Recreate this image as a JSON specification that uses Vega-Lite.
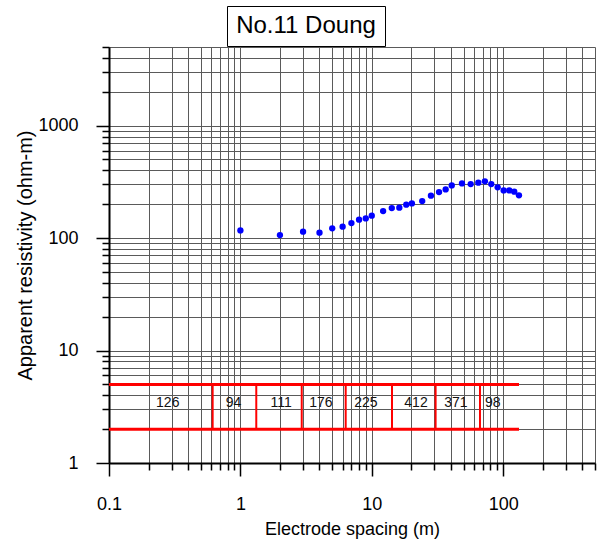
{
  "$schema": "https://vega.github.io/schema/vega-lite/v6.json",
  "padding": {"left": 15, "top": 5, "right": 5, "bottom": 5},
  "background": "white",
  "config": {
    "font": "Liberation Sans",
    "view": {"stroke": null},
    "axis": {
      "titleFontWeight": "normal", "titleColor": "black",
      "labelFontSize": 18, "labelColor": "black",
      "labelFlush": false, "labelOverlap": false,
      "tickColor": "black", "tickWidth": 1.5,
      "domainColor": "black", "domainWidth": 2,
      "grid": true, "gridColor": "#5a5a5a", "gridWidth": 1, "gridOpacity": 1
    }
  },
  "datasets": {
    "title": [{"label": "No.11 Doung"}],
    "spacer": [{"label": ""}],
    "points": [
      {"spacing": 1, "rho": 117}, {"spacing": 2, "rho": 106.4}, {"spacing": 3, "rho": 114},
      {"spacing": 4, "rho": 111.7}, {"spacing": 5, "rho": 122}, {"spacing": 6, "rho": 126.3},
      {"spacing": 7, "rho": 136}, {"spacing": 8, "rho": 145.8}, {"spacing": 9, "rho": 149.6},
      {"spacing": 10, "rho": 158.2}, {"spacing": 12.2, "rho": 173.8}, {"spacing": 14.2, "rho": 184.8},
      {"spacing": 16.2, "rho": 186.3}, {"spacing": 18.3, "rho": 198.2}, {"spacing": 20.2, "rho": 203.4},
      {"spacing": 24.2, "rho": 213.3}, {"spacing": 28.2, "rho": 238.3}, {"spacing": 32.5, "rho": 256.4},
      {"spacing": 36.5, "rho": 271}, {"spacing": 40.6, "rho": 294}, {"spacing": 48.6, "rho": 306.4},
      {"spacing": 56.6, "rho": 302}, {"spacing": 64.7, "rho": 310.8}, {"spacing": 72.6, "rho": 319.3},
      {"spacing": 81.2, "rho": 302}, {"spacing": 90.8, "rho": 282.4}, {"spacing": 100.9, "rho": 265.5},
      {"spacing": 111.3, "rho": 265.5}, {"spacing": 121.4, "rho": 258.4}, {"spacing": 131.9, "rho": 239.7}
    ],
    "band": [
      {"level": 5, "start": 0.1, "end": 132},
      {"level": 2, "start": 0.1, "end": 132}
    ],
    "boundaries": [
      {"depth": 0.615}, {"depth": 1.321}, {"depth": 2.93}, {"depth": 6.33},
      {"depth": 14.25}, {"depth": 30.6}, {"depth": 66.6}
    ],
    "layers": [
      {"resistivity": "126", "labelx": 0.28},
      {"resistivity": "94", "labelx": 0.886},
      {"resistivity": "111", "labelx": 2.04},
      {"resistivity": "176", "labelx": 4.1},
      {"resistivity": "225", "labelx": 9.03},
      {"resistivity": "412", "labelx": 21.7},
      {"resistivity": "371", "labelx": 43.7},
      {"resistivity": "98", "labelx": 83.2}
    ]
  },
  "spacing": -15,
  "vconcat": [
    {
      "spacing": 10,
      "hconcat": [
        {
          "width": 107,
          "height": 40,
          "data": {"name": "spacer"},
          "mark": {"type": "text"},
          "encoding": {"text": {"field": "label"}}
        },
        {
          "width": 158,
          "height": 40,
          "view": {"stroke": "black", "strokeWidth": 1},
          "data": {"name": "title"},
          "mark": {"type": "text", "fontSize": 24, "color": "black", "baseline": "middle", "align": "center"},
          "encoding": {"text": {"field": "label"}}
        }
      ]
    },
    {
      "width": 486,
      "height": 416,
      "layer": [
        {
          "data": {"name": "band"},
          "mark": {"type": "rule", "color": "#FF0000", "strokeWidth": 3},
          "encoding": {
            "x": {
              "field": "start", "type": "quantitative",
              "scale": {"type": "log", "domain": [0.1, 500], "nice": false},
              "axis": {
                "values": [0.1,0.2,0.3,0.4,0.5,0.6,0.7,0.8,0.9,1,2,3,4,5,6,7,8,9,10,20,30,40,50,60,70,80,90,100,200,300,400,500],
                "labelExpr": "indexof([0.1,1,10,100], datum.value) >= 0 ? '' + datum.value : ''",
                "title": "Electrode spacing (m)", "titleFontSize": 18, "titlePadding": 7, "labelPadding": 19,
                "tickSize": {"condition": {"test": "indexof([0.1,1,10,100], datum.value) >= 0", "value": 13}, "value": 7}
              }
            },
            "x2": {"field": "end"},
            "y": {
              "field": "level", "type": "quantitative",
              "scale": {"type": "log", "domain": [1, 5000], "nice": false},
              "axis": {
                "values": [1,2,3,4,5,6,7,8,9,10,20,30,40,50,60,70,80,90,100,200,300,400,500,600,700,800,900,1000,2000,3000,4000,5000],
                "labelExpr": "indexof([1,10,100,1000], datum.value) >= 0 ? '' + datum.value : ''",
                "title": "Apparent resistivity (ohm-m)", "titleFontSize": 20, "titlePadding": 2, "labelPadding": 18,
                "tickSize": {"condition": {"test": "indexof([1,10,100,1000], datum.value) >= 0", "value": 13}, "value": 7}
              }
            }
          }
        },
        {
          "data": {"name": "boundaries"},
          "mark": {"type": "rule", "color": "#FF0000", "strokeWidth": 2},
          "encoding": {
            "x": {
              "field": "depth", "type": "quantitative",
              "scale": {"type": "log", "domain": [0.1, 500], "nice": false},
              "axis": {
                "values": [0.1,0.2,0.3,0.4,0.5,0.6,0.7,0.8,0.9,1,2,3,4,5,6,7,8,9,10,20,30,40,50,60,70,80,90,100,200,300,400,500],
                "labelExpr": "indexof([0.1,1,10,100], datum.value) >= 0 ? '' + datum.value : ''",
                "title": "Electrode spacing (m)", "titleFontSize": 18, "titlePadding": 7, "labelPadding": 19,
                "tickSize": {"condition": {"test": "indexof([0.1,1,10,100], datum.value) >= 0", "value": 13}, "value": 7}
              }
            },
            "y": {
              "datum": 2, "type": "quantitative",
              "scale": {"type": "log", "domain": [1, 5000], "nice": false},
              "axis": {
                "values": [1,2,3,4,5,6,7,8,9,10,20,30,40,50,60,70,80,90,100,200,300,400,500,600,700,800,900,1000,2000,3000,4000,5000],
                "labelExpr": "indexof([1,10,100,1000], datum.value) >= 0 ? '' + datum.value : ''",
                "title": "Apparent resistivity (ohm-m)", "titleFontSize": 20, "titlePadding": 2, "labelPadding": 18,
                "tickSize": {"condition": {"test": "indexof([1,10,100,1000], datum.value) >= 0", "value": 13}, "value": 7}
              }
            },
            "y2": {"datum": 5}
          }
        },
        {
          "data": {"name": "layers"},
          "mark": {"type": "text", "fontSize": 14, "color": "#111111", "baseline": "middle", "align": "center"},
          "encoding": {
            "x": {
              "field": "labelx", "type": "quantitative",
              "scale": {"type": "log", "domain": [0.1, 500], "nice": false},
              "axis": {
                "values": [0.1,0.2,0.3,0.4,0.5,0.6,0.7,0.8,0.9,1,2,3,4,5,6,7,8,9,10,20,30,40,50,60,70,80,90,100,200,300,400,500],
                "labelExpr": "indexof([0.1,1,10,100], datum.value) >= 0 ? '' + datum.value : ''",
                "title": "Electrode spacing (m)", "titleFontSize": 18, "titlePadding": 7, "labelPadding": 19,
                "tickSize": {"condition": {"test": "indexof([0.1,1,10,100], datum.value) >= 0", "value": 13}, "value": 7}
              }
            },
            "y": {
              "datum": 3.4, "type": "quantitative",
              "scale": {"type": "log", "domain": [1, 5000], "nice": false},
              "axis": {
                "values": [1,2,3,4,5,6,7,8,9,10,20,30,40,50,60,70,80,90,100,200,300,400,500,600,700,800,900,1000,2000,3000,4000,5000],
                "labelExpr": "indexof([1,10,100,1000], datum.value) >= 0 ? '' + datum.value : ''",
                "title": "Apparent resistivity (ohm-m)", "titleFontSize": 20, "titlePadding": 2, "labelPadding": 18,
                "tickSize": {"condition": {"test": "indexof([1,10,100,1000], datum.value) >= 0", "value": 13}, "value": 7}
              }
            },
            "text": {"field": "resistivity"}
          }
        },
        {
          "data": {"name": "points"},
          "mark": {"type": "circle", "size": 40, "color": "#0000FF", "opacity": 1},
          "encoding": {
            "x": {
              "field": "spacing", "type": "quantitative",
              "scale": {"type": "log", "domain": [0.1, 500], "nice": false},
              "axis": {
                "values": [0.1,0.2,0.3,0.4,0.5,0.6,0.7,0.8,0.9,1,2,3,4,5,6,7,8,9,10,20,30,40,50,60,70,80,90,100,200,300,400,500],
                "labelExpr": "indexof([0.1,1,10,100], datum.value) >= 0 ? '' + datum.value : ''",
                "title": "Electrode spacing (m)", "titleFontSize": 18, "titlePadding": 7, "labelPadding": 19,
                "tickSize": {"condition": {"test": "indexof([0.1,1,10,100], datum.value) >= 0", "value": 13}, "value": 7}
              }
            },
            "y": {
              "field": "rho", "type": "quantitative",
              "scale": {"type": "log", "domain": [1, 5000], "nice": false},
              "axis": {
                "values": [1,2,3,4,5,6,7,8,9,10,20,30,40,50,60,70,80,90,100,200,300,400,500,600,700,800,900,1000,2000,3000,4000,5000],
                "labelExpr": "indexof([1,10,100,1000], datum.value) >= 0 ? '' + datum.value : ''",
                "title": "Apparent resistivity (ohm-m)", "titleFontSize": 20, "titlePadding": 2, "labelPadding": 18,
                "tickSize": {"condition": {"test": "indexof([1,10,100,1000], datum.value) >= 0", "value": 13}, "value": 7}
              }
            }
          }
        }
      ]
    }
  ]
}
